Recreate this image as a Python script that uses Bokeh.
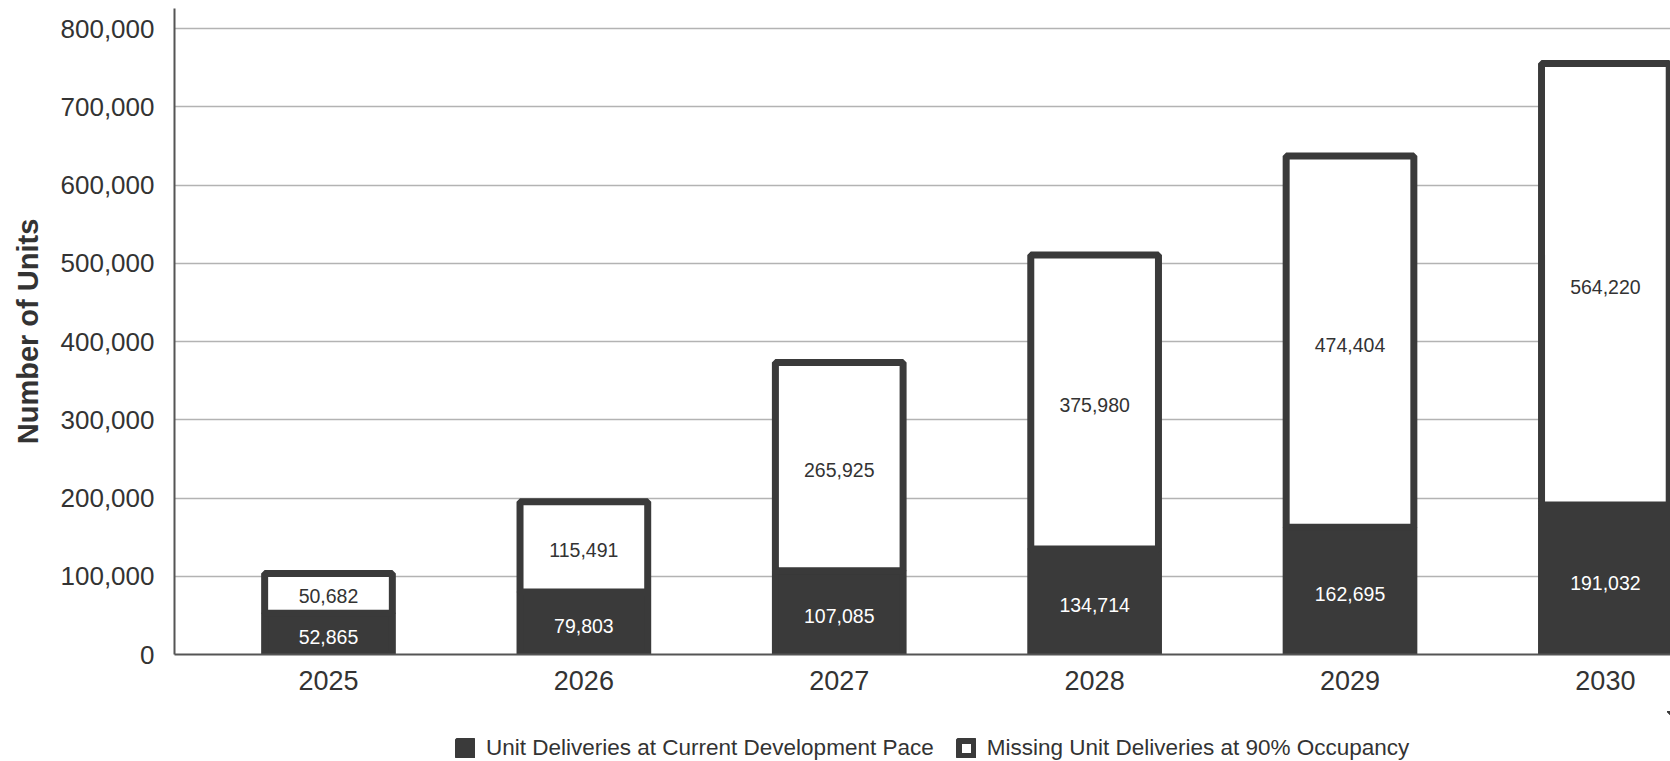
from bokeh.plotting import figure
from bokeh.layouts import column
from bokeh.models import (Range1d, ColumnDataSource, Legend, LegendItem,
                          FixedTicker, NumeralTickFormatter)
from bokeh.embed import file_html
from bokeh.resources import INLINE
from bokeh.core.properties import value

# ---- data ----
years = [2025, 2026, 2027, 2028, 2029, 2030]
current_pace = [52865, 79803, 107085, 134714, 162695, 191032]
missing_units = [50682, 115491, 265925, 375980, 474404, 564220]
y_ticks = [0, 100000, 200000, 300000, 400000, 500000, 600000, 700000, 800000]
series_names = ["Unit Deliveries at Current Development Pace",
                "Missing Unit Deliveries at 90% Occupancy"]
y_title = "Number of Units"

FONT = "Liberation Sans"
DARK = "#3a3a3a"
TXT = "#333333"

totals = [c + m for c, m in zip(current_pace, missing_units)]
src = ColumnDataSource(dict(
    year=years,
    cur=current_pace,
    top=totals,
    cur_mid=[c / 2 for c in current_pace],
    miss_mid=[c + m / 2 for c, m in zip(current_pace, missing_units)],
    cur_txt=[f"{c:,}" for c in current_pace],
    miss_txt=[f"{m:,}" for m in missing_units],
))

p = figure(width=1670, height=711,
           x_range=Range1d(2024.397, 2030.255), y_range=Range1d(0, 825560),
           output_backend="svg", toolbar_location=None,
           min_border_left=174, min_border_right=0, min_border_top=8,
           min_border_bottom=57)
p.outline_line_color = None
p.background_fill_color = "white"
p.border_fill_color = "white"

r1 = p.vbar(x="year", width=0.5, bottom=0, top="cur", source=src,
            fill_color=DARK, line_color=DARK, line_width=7)
r2 = p.vbar(x="year", width=0.5, bottom="cur", top="top", source=src,
            fill_color="white", line_color=DARK, line_width=7)

p.text(x="year", y="cur_mid", text="cur_txt", source=src, text_color="white",
       text_align="center", text_baseline="middle", y_offset=3,
       text_font=value(FONT), text_font_size="19.5px")
p.text(x="year", y="miss_mid", text="miss_txt", source=src, text_color=TXT,
       text_align="center", text_baseline="middle", y_offset=3,
       text_font=value(FONT), text_font_size="19.5px")

# axes
p.yaxis.ticker = FixedTicker(ticks=y_ticks)
p.yaxis.formatter = NumeralTickFormatter(format="0,0")
p.xaxis.ticker = FixedTicker(ticks=years)
for ax in (p.xaxis, p.yaxis):
    ax.axis_line_color = "#555555"
    ax.axis_line_width = 2
    ax.major_tick_line_color = None
    ax.minor_tick_line_color = None
    ax.major_tick_out = 0
    ax.major_tick_in = 0
    ax.minor_tick_out = 0
    ax.major_label_text_font = FONT
    ax.major_label_text_color = TXT
p.yaxis.major_label_text_font_size = "26px"
p.yaxis.major_label_standoff = 20
p.xaxis.major_label_text_font_size = "27px"
p.xaxis.major_label_standoff = 16

p.yaxis.axis_label = y_title
p.yaxis.axis_label_text_font = FONT
p.yaxis.axis_label_text_font_style = "bold"
p.yaxis.axis_label_text_font_size = "29px"
p.yaxis.axis_label_text_color = TXT
p.yaxis.axis_label_standoff = 14

p.xgrid.grid_line_color = None
p.ygrid.grid_line_color = "#b3b3b3"
p.ygrid.grid_line_width = 1.3

# legend strip (separate figure so it is not clipped by the plot frame);
# its renderers use the same data but lie outside this strip's ranges
p2 = figure(width=1670, height=50, x_range=Range1d(0, 1), y_range=Range1d(-2, -1),
            output_backend="svg", toolbar_location=None,
            x_axis_type=None, y_axis_type=None,
            min_border_left=174, min_border_right=0, min_border_top=0,
            min_border_bottom=0)
p2.outline_line_color = None
p2.grid.visible = False
g1 = p2.vbar(x="year", width=0.5, bottom=0, top="cur", source=src,
             fill_color=DARK, line_color=DARK, line_width=7)
g2 = p2.vbar(x="year", width=0.5, bottom="cur", top="top", source=src,
             fill_color="white", line_color=DARK, line_width=7)

legend = Legend(items=[LegendItem(label=series_names[0], renderers=[g1]),
                       LegendItem(label=series_names[1], renderers=[g2])],
                orientation="horizontal", location=(281, 0),
                padding=0, margin=0, spacing=22, label_standoff=11,
                glyph_width=20, glyph_height=20, label_height=22,
                border_line_color=None, background_fill_alpha=0,
                label_text_font=FONT, label_text_font_size="22.5px",
                label_text_color=TXT)
p2.add_layout(legend, "center")

layout = column(p, p2, spacing=0)
open("out.html", "w").write(file_html(layout, INLINE))
